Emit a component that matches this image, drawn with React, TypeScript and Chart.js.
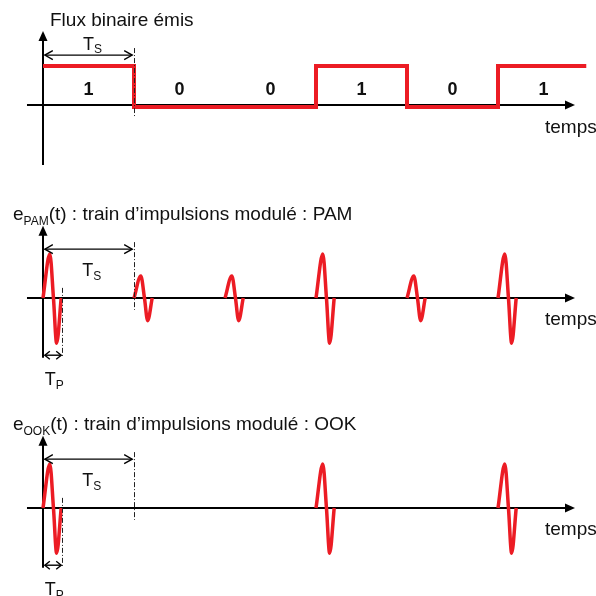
import React, { useEffect, useRef } from "react";
import { Chart, registerables } from "chart.js";
Chart.register(...registerables);

// ---------------- data ----------------
const bits = [1, 0, 0, 1, 0, 1];
const bitLabels = ["1", "0", "0", "1", "0", "1"];
const stepLevels = [-0.05, 1]; // level of a 0 bit, level of a 1 bit
const stepEndT = 5.97; // end of the drawn bit stream (in Ts)
const pamAmplitudes = [1, 0.5, 0.5, 1, 0.5, 1];
const ookAmplitudes = [1, 0, 0, 1, 0, 1];
const pulseOffsets = [0, 0.075, 0.115, 0.15, 0.2]; // within one pulse (in Ts)
const pulseShape = [0, 1, 0, -1.03, 0];
const TP = 0.21;

// ---------------- layout ----------------
const WIDTH = 596;
const ORIGIN_PX = 43;
const TS_PX = 91;
const RED = "#ec1c24";
const FONT = '"Liberation Sans", Arial, Helvetica, sans-serif';

type Part = { t: string; size: number; bold?: boolean; dy?: number };
type TextSpec = { x: number; y: number; parts: Part[]; align?: "left" | "center" };
type PanelSpec = {
  top: number;
  height: number;
  axisPx: number;
  unitPx: number;
  vAxis: [number, number];
  hAxis: [number, number];
  tsArrowY: number;
  tsDash: [number, number];
  tpArrowY?: number;
  tpDash?: [number, number];
  texts: TextSpec[];
  kind: "step" | "pam" | "ook";
};

const stepData = () => {
  const pts = bits.map((b, i) => ({ x: i, y: stepLevels[b] }));
  pts.push({ x: stepEndT, y: stepLevels[bits[bits.length - 1]] });
  return pts;
};

const pulseDatasets = (amps: number[]) =>
  amps
    .map((a, i) =>
      a === 0
        ? null
        : {
            data: pulseOffsets.map((o, k) => ({ x: i + o, y: a * pulseShape[k] })),
            borderColor: RED,
            borderWidth: 3.5,
            pointRadius: 0,
            cubicInterpolationMode: "monotone" as const,
            fill: false,
          }
    )
    .filter(Boolean);

const tempsText = (y: number): TextSpec => ({ x: 5.516, y, parts: [{ t: "temps", size: 19 }] });

const panels: PanelSpec[] = [
  {
    kind: "step",
    top: 0,
    height: 180,
    axisPx: 105,
    unitPx: 39,
    vAxis: [-1.54, 1.9],
    hAxis: [-0.176, 5.846],
    tsArrowY: 1.28,
    tsDash: [-0.31, 1.46],
    texts: [
      { x: 0.077, y: 2.03, parts: [{ t: "Flux binaire émis", size: 19 }] },
      { x: 0.44, y: 1.41, parts: [{ t: "T", size: 18 }, { t: "S", size: 12, dy: 3 }] },
      tempsText(-0.72),
      ...bitLabels.map((l, i) => ({
        x: i + 0.5,
        y: 0.256,
        align: "center" as const,
        parts: [{ t: l, size: 18, bold: true }],
      })),
    ],
  },
  {
    kind: "pam",
    top: 190,
    height: 205,
    axisPx: 108,
    unitPx: 44,
    vAxis: [-1.36, 1.64],
    hAxis: [-0.176, 5.846],
    tsArrowY: 1.11,
    tsDash: [-0.27, 1.27],
    tpArrowY: -1.3,
    tpDash: [-1.34, 0.23],
    texts: [
      {
        x: -0.33,
        y: 1.77,
        parts: [
          { t: "e", size: 19 },
          { t: "PAM", size: 12, dy: 5 },
          { t: "(t) : train d’impulsions modulé : PAM", size: 19 },
        ],
      },
      { x: 0.43, y: 0.5, parts: [{ t: "T", size: 18 }, { t: "S", size: 12, dy: 4 }] },
      { x: 0.02, y: -1.98, parts: [{ t: "T", size: 18 }, { t: "P", size: 12, dy: 4 }] },
      tempsText(-0.61),
    ],
  },
  {
    kind: "ook",
    top: 400,
    height: 196,
    axisPx: 108,
    unitPx: 44,
    vAxis: [-1.36, 1.64],
    hAxis: [-0.176, 5.846],
    tsArrowY: 1.11,
    tsDash: [-0.27, 1.27],
    tpArrowY: -1.3,
    tpDash: [-1.34, 0.23],
    texts: [
      {
        x: -0.33,
        y: 1.77,
        parts: [
          { t: "e", size: 19 },
          { t: "OOK", size: 12, dy: 5 },
          { t: "(t) : train d’impulsions modulé : OOK", size: 19 },
        ],
      },
      { x: 0.43, y: 0.5, parts: [{ t: "T", size: 18 }, { t: "S", size: 12, dy: 4 }] },
      { x: 0.02, y: -1.98, parts: [{ t: "T", size: 18 }, { t: "P", size: 12, dy: 4 }] },
      tempsText(-0.61),
    ],
  },
];

function makeDiagramPlugin(p: PanelSpec) {
  const seg = (ctx: CanvasRenderingContext2D, x0: number, y0: number, x1: number, y1: number) => {
    ctx.beginPath();
    ctx.moveTo(x0, y0);
    ctx.lineTo(x1, y1);
    ctx.stroke();
  };
  const doubleArrow = (ctx: CanvasRenderingContext2D, xa: number, xb: number, y: number, L: number, H: number) => {
    ctx.save();
    ctx.strokeStyle = "#000";
    ctx.lineWidth = 1.4;
    seg(ctx, xa, y, xb, y);
    ctx.beginPath();
    ctx.moveTo(xa + L, y - H);
    ctx.lineTo(xa, y);
    ctx.lineTo(xa + L, y + H);
    ctx.moveTo(xb - L, y - H);
    ctx.lineTo(xb, y);
    ctx.lineTo(xb - L, y + H);
    ctx.stroke();
    ctx.restore();
  };
  const dashed = (ctx: CanvasRenderingContext2D, x: number, y0: number, y1: number) => {
    ctx.save();
    ctx.strokeStyle = "#222";
    ctx.lineWidth = 1;
    ctx.setLineDash([5, 2, 1, 2]);
    seg(ctx, Math.round(x) + 0.5, y0, Math.round(x) + 0.5, y1);
    ctx.restore();
  };
  return {
    id: "diagram",
    beforeDatasetsDraw(chart: any) {
      const ctx: CanvasRenderingContext2D = chart.ctx;
      const X = (v: number) => chart.scales.x.getPixelForValue(v);
      const Y = (v: number) => chart.scales.y.getPixelForValue(v);
      ctx.save();
      ctx.strokeStyle = "#000";
      ctx.fillStyle = "#000";
      ctx.lineWidth = 2;
      const y0 = Y(0);
      const xEnd = X(p.hAxis[1]);
      seg(ctx, X(p.hAxis[0]), y0, xEnd - 6, y0);
      ctx.beginPath();
      ctx.moveTo(xEnd, y0);
      ctx.lineTo(xEnd - 10, y0 - 4.5);
      ctx.lineTo(xEnd - 10, y0 + 4.5);
      ctx.closePath();
      ctx.fill();
      const x0 = X(0);
      const yTop = Y(p.vAxis[1]);
      seg(ctx, x0, Y(p.vAxis[0]), x0, yTop + 6);
      ctx.beginPath();
      ctx.moveTo(x0, yTop);
      ctx.lineTo(x0 - 4.5, yTop + 10);
      ctx.lineTo(x0 + 4.5, yTop + 10);
      ctx.closePath();
      ctx.fill();
      ctx.restore();
    },
    afterDatasetsDraw(chart: any) {
      const ctx: CanvasRenderingContext2D = chart.ctx;
      const X = (v: number) => chart.scales.x.getPixelForValue(v);
      const Y = (v: number) => chart.scales.y.getPixelForValue(v);
      // Ts marker
      dashed(ctx, X(1), Y(p.tsDash[1]), Y(p.tsDash[0]));
      doubleArrow(ctx, X(0.02), X(0.98), Y(p.tsArrowY), 8, 4.5);
      if (p.tpArrowY !== undefined && p.tpDash) {
        dashed(ctx, X(TP), Y(p.tpDash[1]), Y(p.tpDash[0]));
        doubleArrow(ctx, X(0.02), X(TP - 0.01), Y(p.tpArrowY), 5, 4);
      }
      // texts
      ctx.save();
      ctx.fillStyle = "#111";
      ctx.textBaseline = "alphabetic";
      ctx.textAlign = "left";
      for (const t of p.texts) {
        const fontOf = (pt: Part) => `${pt.bold ? "bold " : ""}${pt.size}px ${FONT}`;
        let total = 0;
        for (const pt of t.parts) {
          ctx.font = fontOf(pt);
          total += ctx.measureText(pt.t).width;
        }
        let cx = X(t.x) - (t.align === "center" ? total / 2 : 0);
        const by = Y(t.y);
        for (const pt of t.parts) {
          ctx.font = fontOf(pt);
          ctx.fillText(pt.t, cx, by + (pt.dy || 0));
          cx += ctx.measureText(pt.t).width;
        }
      }
      ctx.restore();
    },
  };
}

function Panel({ spec }: { spec: PanelSpec }) {
  const ref = useRef<HTMLCanvasElement>(null);
  useEffect(() => {
    const datasets: any[] =
      spec.kind === "step"
        ? [
            {
              data: stepData(),
              stepped: true,
              borderColor: RED,
              borderWidth: 4,
              pointRadius: 0,
              fill: false,
            },
          ]
        : pulseDatasets(spec.kind === "pam" ? pamAmplitudes : ookAmplitudes);
    const chart = new Chart(ref.current!, {
      type: "line",
      data: { datasets },
      options: {
        animation: false,
        responsive: false,
        devicePixelRatio: 1,
        layout: { padding: 0 },
        plugins: { legend: { display: false }, tooltip: { enabled: false } },
        events: [],
        scales: {
          x: {
            type: "linear",
            display: false,
            min: -ORIGIN_PX / TS_PX,
            max: (WIDTH - ORIGIN_PX) / TS_PX,
          },
          y: {
            type: "linear",
            display: false,
            min: -(spec.height - spec.axisPx) / spec.unitPx,
            max: spec.axisPx / spec.unitPx,
          },
        },
      },
      plugins: [makeDiagramPlugin(spec)],
    } as any);
    return () => chart.destroy();
  }, [spec]);
  return (
    <canvas
      ref={ref}
      width={WIDTH}
      height={spec.height}
      style={{ position: "absolute", left: 0, top: spec.top, width: WIDTH, height: spec.height }}
    />
  );
}

export default function App() {
  return (
    <div
      style={{
        position: "absolute",
        left: 0,
        top: 0,
        width: WIDTH,
        height: 596,
        overflow: "hidden",
        background: "#fff",
      }}
    >
      {panels.map((p, i) => (
        <Panel key={i} spec={p} />
      ))}
    </div>
  );
}
